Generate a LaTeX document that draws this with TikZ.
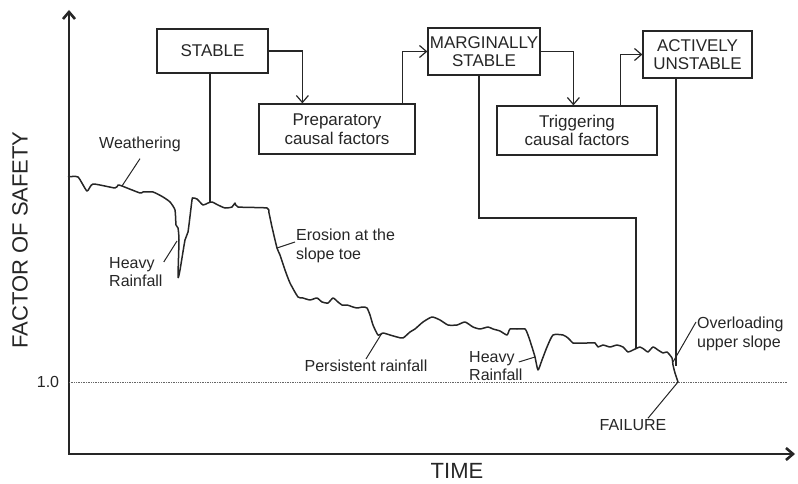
\documentclass[tikz,border=0pt]{standalone}
\usepackage{fontspec}
\setmainfont{Liberation Sans}
\usetikzlibrary{arrows.meta}

\tikzset{
  statebox/.style={draw, line width=1.2pt, align=center, inner sep=0pt,
    font=\fontsize{17}{18.5}\selectfont},
  lbl/.style={align=left, inner sep=1pt, font=\fontsize{16}{18.5}\selectfont},
  big/.style={inner sep=1pt, font=\fontsize{22}{24}\selectfont},
  flow/.style={line width=1.2pt, -{Straight Barb[length=7pt,width=12pt]}},
  link/.style={line width=1.2pt},
  leader/.style={line width=1pt},
  safety/.style={line width=1.5pt, line join=round},
  level/.style={densely dotted, line width=0.7pt, black!60},
}

\begin{document}
\begin{tikzpicture}[x=1pt, y=-1pt, color=black!85]
        \useasboundingbox (0,0) rectangle (798,484);

        % axes
        \coordinate (o) at (69,454);
        \draw[line width=2.6pt, line join=miter,
              {Straight Barb[length=7pt,width=12pt]}-{Straight Barb[length=7pt,width=12pt]}]
              (69,10) -- (o) -- (795,454);
        \node[big, rotate=90] (fos-lbl) at (20,240) {FACTOR OF SAFETY};
        \node[big] (time-lbl) at (457,471) {TIME};

        % factor of safety = 1
        \draw[level] (69,382) -- (787,382);
        \node[lbl] (one-lbl) at (48,382) {1.0};

        % factor of safety with time
        \draw[safety] plot[smooth, tension=0.35] coordinates {
            (68,177) (78,177) (87,191) (93,184) (115,188) (118,185) (122,186)
            (140,193) (143,192) (153,192) (163,197) (170,202) (175,210) (176,225)
            (178,228) (179,240) (178,277) (180,270) (185,240) (188,232) (192,200)
            (193,198) (197,199) (203,205) (208,203) (212,202) (218,205) (225,208)
            (232,207) (235,203) (238,207) (267,208) (269,213) (272,227) (277,248)
            (280,255) (285,270) (290,283) (298,297) (303,298) (310,300) (317,298)
            (322,302) (328,303) (333,298) (338,302) (342,305) (347,305) (353,307)
            (357,308) (363,307) (367,308) (370,315) (373,325) (378,335) (383,333)
            (390,335) (397,337) (403,338) (410,332) (415,329) (423,322) (432,317)
            (440,320) (448,325) (457,325) (465,322) (473,327) (480,329) (488,327)
            (493,329) (500,331) (507,335) (510,329) (517,329) (525,329) (528,335)
            (532,347) (535,357) (538,370) (542,360) (547,347) (553,335) (563,335)
            (568,338) (573,343) (577,343) (587,343) (595,343) (598,347) (603,345)
            (610,347) (617,345) (623,347) (628,352) (633,350) (640,347) (645,350)
            (648,352) (653,347) (658,350) (663,353) (667,352) (672,358) (673,365)
            (675,373) (678,382)};

        % points on the curve
        \coordinate (w1) at (122,186);
        \coordinate (r1) at (177,241);
        \coordinate (e1) at (277,248);
        \coordinate (p1) at (382,333);
        \coordinate (r2) at (535,357);
        \coordinate (o1) at (673,362);
        \coordinate (f1) at (678,382);
        \coordinate (c-stable) at (210,202);
        \coordinate (c-marg) at (636,349);
        \coordinate (m-turn) at (636,218);
        \coordinate (c-act) at (676,366);

        % stages and causal factors
        \node[statebox, minimum width=111pt, minimum height=44pt] (stable) at (212.5,51) {STABLE};
        \node[statebox, minimum width=156pt, minimum height=50pt] (prep) at (337,129) {Preparatory\\causal factors};
        \node[statebox, minimum width=112pt, minimum height=47pt] (marg) at (484,51.5) {MARGINALLY\\STABLE};
        \node[statebox, minimum width=160pt, minimum height=49pt] (trig) at (577,130.5) {Triggering\\causal factors};
        \node[statebox, minimum width=109pt, minimum height=47pt] (act) at (697.5,54.5) {ACTIVELY\\UNSTABLE};

        \draw[flow] (stable.east) -| ([xshift=44pt]prep.north west);
        \draw[flow] ([xshift=-13pt]prep.north east) |- (marg.west);
        \draw[flow] (marg.east) -| ([xshift=77pt]trig.north west);
        \draw[flow] ([xshift=-37pt]trig.north east) |- (act.west);

        \draw[link] (stable.south -| c-stable) -- (c-stable);
        \draw[link] ([xshift=-5pt]marg.south) |- (m-turn) -- (c-marg);
        \draw[link] (act.south -| c-act) -- (c-act);

        % labels
        \node[lbl] (weath) at (140,144) {Weathering};
        \draw[leader] ([yshift=-6pt]weath.south) -- (w1);
        \node[lbl, anchor=west] (rain1) at (108,272) {Heavy\\Rainfall};
        \draw[leader] ([yshift=10pt]rain1.east) -- (r1);
        \node[lbl, anchor=west] (eros) at (295,246) {Erosion at the\\slope toe};
        \draw[leader] (e1) -- ([yshift=4pt]eros.west);
        \node[lbl] (pers) at (366,366) {Persistent rainfall};
        \draw[leader] (pers.north) -- (p1);
        \node[lbl, anchor=west] (rain2) at (468,366) {Heavy\\Rainfall};
        \draw[leader] ([xshift=-5pt,yshift=4pt]rain2.east) -- (r2);
        \node[lbl, anchor=west] (over) at (696,334) {Overloading\\upper slope};
        \draw[leader] ([yshift=12pt]over.west) -- (o1);
        \node[lbl] (fail) at (633,425) {FAILURE};
        \draw[leader] ([xshift=15pt]fail.north) -- (f1);
    \end{tikzpicture}
\end{document}
